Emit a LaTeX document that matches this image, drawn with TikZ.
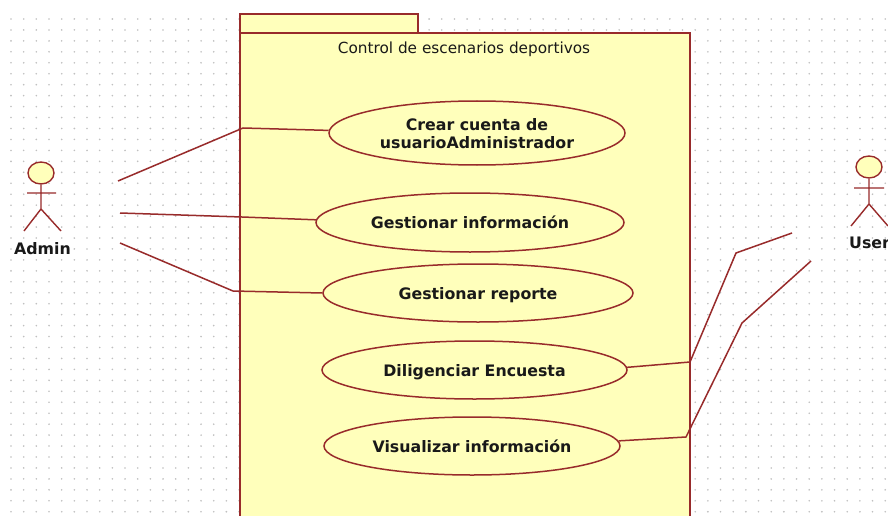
\documentclass[tikz,border=0pt]{standalone}
\usepackage{fontspec}
\setmainfont{DejaVu Sans}
\usetikzlibrary{shapes.geometric}
\definecolor{umlline}{HTML}{982B2B}
\definecolor{umlfill}{HTML}{FFFFBB}
\definecolor{griddot}{HTML}{C0C0C0}
\tikzset{
  uc/.style={ellipse,draw=umlline,fill=umlfill,line width=1.5pt,inner sep=0pt,align=center,text depth=0pt,font=\fontsize{15.8}{18.5}\selectfont\bfseries,text=black!90},
  pkg/.style={draw=umlline,fill=umlfill,line width=1.7pt},
  assoc/.style={draw=umlline,line width=1.5pt},
  limb/.style={draw=umlline,line width=1.4pt},
  head/.style={ellipse,draw=umlline,fill=umlfill,line width=1.4pt,minimum width=26pt,minimum height=22pt,inner sep=0pt},
  actorlabel/.style={font=\fontsize{15.8}{17}\selectfont\bfseries,text=black!90,inner sep=0pt},
}
\begin{document}
\begin{tikzpicture}[x=1pt,y=-1pt]
\clip (0,0) rectangle (888,516);
\fill[white] (0,0) rectangle (888,516);
% dotted canvas
\foreach \i in {0,...,69}{\foreach \j in {0,...,45}{
  \fill[griddot] ({11+12.67*\i},{19+10.95*\j}) circle (0.9pt);}}
% package
\draw[pkg] (240,14) rectangle (418,33);
\draw[pkg] (240,33) rectangle (690,530);
\node[font=\fontsize{15.3}{16}\selectfont,text=black!90,inner sep=0pt,anchor=base] (title) at (464,53.5) {Control de escenarios deportivos};
% use cases
\node[uc,minimum width=296pt,minimum height=64pt] (e1) at (477,133) {\raisebox{-1.5pt}{\shortstack{Crear cuenta de\\[3pt]usuarioAdministrador}}};
\node[uc,minimum width=308pt,minimum height=59pt] (e2) at (470,222.5) {Gestionar información};
\node[uc,minimum width=310pt,minimum height=58pt] (e3) at (478,293) {\raisebox{-1.5pt}{Gestionar reporte}};
\node[uc,minimum width=305pt,minimum height=58pt] (e4) at (474.5,370) {Diligenciar Encuesta};
\node[uc,minimum width=296pt,minimum height=58pt] (e5) at (472,446) {Visualizar información};
% Admin actor
\node[head] (ah) at (41,173) {};
\coordinate (ahip) at (41,209);
\coordinate (aal) at (27,193);
\coordinate (aar) at (56,193);
\coordinate (all) at (24,231);
\coordinate (alr) at (61,231);
\draw[limb] (ah.south) -- (ahip) (aal) -- (aar) (all) -- (ahip) -- (alr);
\node[actorlabel,anchor=base] (al) at (42.5,254) {Admin};
% User actor
\node[head] (uh) at (869,167) {};
\coordinate (uhip) at (869,204);
\coordinate (ual) at (854,188);
\coordinate (uar) at (884,188);
\coordinate (ull) at (851,226);
\coordinate (ulr) at (888,226);
\draw[limb] (uh.south) -- (uhip) (ual) -- (uar) (ull) -- (uhip) -- (ulr);
\node[actorlabel,anchor=base west] (ul) at (849,248) {User};
% connectors
\coordinate (a1) at (118,181); \coordinate (b1) at (243,128);
\coordinate (a2) at (120,213); \coordinate (b2) at (242,217);
\coordinate (a3) at (120,243); \coordinate (b3) at (233,291);
\coordinate (u1) at (792,233); \coordinate (c1) at (736,253); \coordinate (d1) at (690,362);
\coordinate (u2) at (811,261); \coordinate (c2) at (742,323); \coordinate (d2) at (686,437);
\draw[assoc] (a1) -- (b1) -- (e1.179);
\draw[assoc] (a2) -- (b2) -- (e2.179);
\draw[assoc] (a3) -- (b3) -- (e3.west);
\draw[assoc] (u1) -- (c1) -- (d1) -- (e4.1.5);
\draw[assoc] (u2) -- (c2) -- (d2) -- (e5.2);
\end{tikzpicture}
\end{document}
